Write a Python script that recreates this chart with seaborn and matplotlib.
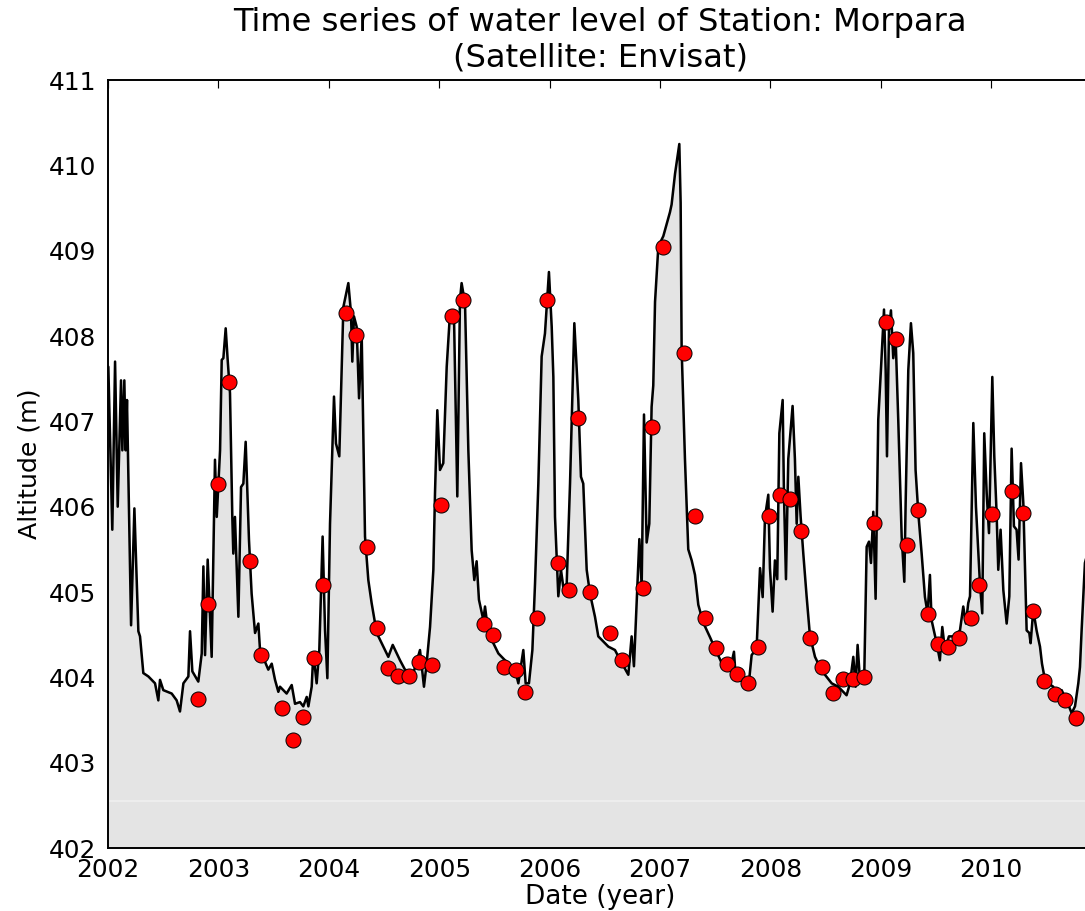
import matplotlib
matplotlib.use("Agg")
import matplotlib.pyplot as plt
import seaborn as sns
import pandas as pd
from matplotlib.ticker import FormatStrFormatter

# ---- data: continuous water-level series (decimal year, altitude m) ----
line_year = [
    2002.003, 2002.039, 2002.064, 2002.088, 2002.118, 2002.130, 2002.148, 2002.160, 2002.172, 2002.209,
    2002.239, 2002.275, 2002.290, 2002.320, 2002.366, 2002.426, 2002.456, 2002.471, 2002.501, 2002.577,
    2002.622, 2002.652, 2002.683, 2002.728, 2002.743, 2002.764, 2002.818, 2002.849, 2002.864, 2002.879,
    2002.903, 2002.939, 2002.969, 2002.985, 2003.015, 2003.030, 2003.045, 2003.066, 2003.084, 2003.105,
    2003.126, 2003.135, 2003.150, 2003.181, 2003.205, 2003.226, 2003.247, 2003.277, 2003.301, 2003.332,
    2003.362, 2003.377, 2003.452, 2003.483, 2003.513, 2003.543, 2003.558, 2003.618, 2003.664, 2003.694,
    2003.739, 2003.769, 2003.800, 2003.815, 2003.845, 2003.860, 2003.890, 2003.914, 2003.944, 2003.966,
    2003.987, 2004.011, 2004.047, 2004.065, 2004.095, 2004.132, 2004.177, 2004.201, 2004.213, 2004.228,
    2004.252, 2004.274, 2004.298, 2004.328, 2004.358, 2004.388, 2004.434, 2004.494, 2004.539, 2004.579,
    2004.645, 2004.690, 2004.766, 2004.826, 2004.862, 2004.886, 2004.917, 2004.947, 2004.962, 2004.983,
    2005.007, 2005.037, 2005.068, 2005.098, 2005.134, 2005.164, 2005.188, 2005.203, 2005.234, 2005.264,
    2005.294, 2005.318, 2005.339, 2005.360, 2005.400, 2005.415, 2005.445, 2005.490, 2005.536, 2005.596,
    2005.686, 2005.717, 2005.762, 2005.783, 2005.813, 2005.844, 2005.868, 2005.898, 2005.928, 2005.958,
    2005.994, 2006.019, 2006.034, 2006.049, 2006.079, 2006.103, 2006.124, 2006.155, 2006.185, 2006.224,
    2006.260, 2006.284, 2006.305, 2006.336, 2006.366, 2006.411, 2006.441, 2006.532, 2006.592, 2006.653,
    2006.713, 2006.743, 2006.764, 2006.788, 2006.813, 2006.834, 2006.855, 2006.879, 2006.903, 2006.924,
    2006.939, 2006.955, 2006.985, 2007.030, 2007.090, 2007.105, 2007.136, 2007.175, 2007.187, 2007.196,
    2007.226, 2007.256, 2007.287, 2007.317, 2007.347, 2007.392, 2007.453, 2007.498, 2007.558, 2007.634,
    2007.670, 2007.688, 2007.755, 2007.800, 2007.830, 2007.875, 2007.906, 2007.930, 2007.951, 2007.981,
    2007.996, 2008.020, 2008.041, 2008.062, 2008.081, 2008.111, 2008.123, 2008.141, 2008.162, 2008.201,
    2008.222, 2008.238, 2008.253, 2008.274, 2008.298, 2008.328, 2008.358, 2008.404, 2008.464, 2008.555,
    2008.615, 2008.690, 2008.721, 2008.751, 2008.772, 2008.790, 2008.811, 2008.850, 2008.872, 2008.893,
    2008.911, 2008.932, 2008.953, 2008.977, 2009.001, 2009.029, 2009.044, 2009.056, 2009.074, 2009.092,
    2009.113, 2009.134, 2009.158, 2009.189, 2009.213, 2009.225, 2009.249, 2009.273, 2009.294, 2009.315,
    2009.340, 2009.370, 2009.400, 2009.424, 2009.445, 2009.460, 2009.506, 2009.535, 2009.557, 2009.581,
    2009.617, 2009.666, 2009.717, 2009.747, 2009.771, 2009.792, 2009.808, 2009.838, 2009.862, 2009.898,
    2009.919, 2009.937, 2009.959, 2009.980, 2010.010, 2010.028, 2010.049, 2010.064, 2010.085, 2010.110,
    2010.140, 2010.164, 2010.185, 2010.206, 2010.230, 2010.248, 2010.270, 2010.291, 2010.321, 2010.345,
    2010.357, 2010.381, 2010.411, 2010.442, 2010.460, 2010.487, 2010.517, 2010.562, 2010.593, 2010.638,
    2010.668, 2010.698, 2010.729, 2010.759, 2010.789, 2010.804, 2010.819, 2010.849, 2010.920,
]
line_alt = [
    407.64, 405.73, 407.70, 406.00, 407.48, 406.66, 407.48, 406.66, 407.25, 404.61,
    405.98, 404.54, 404.48, 404.05, 404.01, 403.93, 403.73, 403.97, 403.85, 403.81,
    403.73, 403.60, 403.93, 404.01, 404.54, 404.07, 403.95, 404.28, 405.30, 404.26,
    405.38, 404.24, 406.55, 405.88, 406.66, 407.72, 407.74, 408.09, 407.72, 407.33,
    405.88, 405.45, 405.88, 404.71, 406.23, 406.27, 406.76, 405.61, 404.98, 404.52,
    404.63, 404.32, 404.09, 404.16, 403.97, 403.83, 403.89, 403.81, 403.91, 403.69,
    403.71, 403.66, 403.77, 403.66, 403.89, 404.28, 403.93, 404.32, 405.65, 404.55,
    403.99, 405.80, 407.29, 406.74, 406.59, 408.34, 408.62, 408.27, 407.70, 408.23,
    408.11, 407.27, 408.01, 405.65, 405.14, 404.87, 404.52, 404.36, 404.24, 404.38,
    404.20, 404.09, 404.05, 404.32, 403.89, 404.16, 404.59, 405.26, 406.16, 407.13,
    406.43, 406.51, 407.64, 408.27, 408.23, 406.12, 408.42, 408.62, 408.38, 406.66,
    405.49, 405.14, 405.36, 404.91, 404.67, 404.83, 404.52, 404.40, 404.28, 404.20,
    404.09, 403.93, 404.32, 403.93, 403.93, 404.32, 405.10, 406.27, 407.76, 408.03,
    408.75, 408.11, 407.52, 405.88, 404.95, 405.26, 405.06, 405.10, 406.27, 408.15,
    407.25, 406.35, 406.27, 405.26, 404.98, 404.71, 404.48, 404.36, 404.32, 404.17,
    404.03, 404.48, 404.13, 404.85, 405.62, 405.07, 407.08, 405.58, 405.80, 407.17,
    407.42, 408.40, 409.05, 409.17, 409.45, 409.54, 409.90, 410.25, 409.56, 407.85,
    406.56, 405.50, 405.37, 405.20, 404.85, 404.64, 404.47, 404.34, 404.17, 404.08,
    404.30, 403.96, 403.96, 403.87, 404.26, 404.34, 405.28, 404.94, 405.88, 406.14,
    405.28, 404.77, 405.37, 405.15, 406.86, 407.25, 406.14, 405.15, 406.56, 407.18,
    406.56, 405.80, 406.35, 405.88, 405.45, 404.95, 404.49, 404.24, 404.08, 403.93,
    403.89, 403.79, 403.93, 404.24, 403.89, 404.38, 403.97, 404.01, 405.53, 405.59,
    405.34, 405.94, 404.92, 407.02, 407.60, 408.31, 407.60, 406.59, 408.07, 408.30,
    407.74, 407.99, 407.02, 405.65, 405.12, 406.04, 407.60, 408.15, 407.80, 406.43,
    405.92, 405.45, 404.94, 404.75, 405.20, 404.67, 404.40, 404.20, 404.59, 404.32,
    404.48, 404.48, 404.55, 404.83, 404.63, 404.87, 404.95, 406.98, 406.00, 405.10,
    404.75, 406.86, 406.16, 405.69, 407.52, 406.59, 405.92, 405.26, 405.73, 405.02,
    404.63, 404.95, 406.68, 405.77, 405.73, 405.38, 406.51, 406.04, 404.55, 404.52,
    404.40, 404.79, 404.55, 404.36, 404.16, 403.97, 403.93, 403.89, 403.77, 403.85,
    403.77, 403.68, 403.58, 403.66, 403.93, 404.12, 404.55, 405.34, 405.70,
]

# ---- data: satellite (Envisat) measurements ----
sat_year = [
    2002.812, 2002.909, 2002.999, 2003.099, 2003.286, 2003.386, 2003.573, 2003.679, 2003.764, 2003.866,
    2003.950, 2004.156, 2004.246, 2004.349, 2004.434, 2004.533, 2004.630, 2004.729, 2004.820, 2004.932,
    2005.016, 2005.113, 2005.218, 2005.409, 2005.490, 2005.590, 2005.693, 2005.777, 2005.883, 2005.973,
    2006.073, 2006.176, 2006.260, 2006.366, 2006.547, 2006.653, 2006.843, 2006.925, 2007.030, 2007.217,
    2007.317, 2007.408, 2007.507, 2007.604, 2007.694, 2007.800, 2007.885, 2007.990, 2008.087, 2008.178,
    2008.274, 2008.362, 2008.464, 2008.570, 2008.661, 2008.751, 2008.848, 2008.941, 2009.044, 2009.135,
    2009.234, 2009.334, 2009.425, 2009.521, 2009.611, 2009.708, 2009.814, 2009.892, 2010.005, 2010.186,
    2010.291, 2010.381, 2010.481, 2010.578, 2010.668, 2010.768,
]
sat_alt = [
    403.75, 404.86, 406.27, 407.46, 405.36, 404.26, 403.64, 403.27, 403.54, 404.23,
    405.08, 408.27, 408.01, 405.53, 404.58, 404.11, 404.01, 404.01, 404.18, 404.14,
    406.02, 408.24, 408.42, 404.63, 404.50, 404.12, 404.09, 403.83, 404.69, 408.42,
    405.34, 405.02, 407.04, 405.00, 404.52, 404.20, 405.05, 406.93, 409.04, 407.80,
    405.89, 404.70, 404.34, 404.16, 404.04, 403.93, 404.36, 405.89, 406.14, 406.09,
    405.71, 404.46, 404.12, 403.82, 403.98, 403.98, 404.00, 405.81, 408.16, 407.97,
    405.55, 405.96, 404.74, 404.39, 404.35, 404.46, 404.70, 405.08, 405.91, 406.18,
    405.92, 404.78, 403.96, 403.81, 403.73, 403.52,
]

x_ticks = [2002, 2003, 2004, 2005, 2006, 2007, 2008, 2009, 2010]
y_ticks = [402, 403, 404, 405, 406, 407, 408, 409, 410, 411]
title_text = "Time series of water level of Station: Morpara\n(Satellite: Envisat)"
x_label = "Date (year)"
y_label = "Altitude (m)"
fill_base = 402.55

df_line = pd.DataFrame({"year": line_year, "alt": line_alt})
df_sat = pd.DataFrame({"year": sat_year, "alt": sat_alt})

sns.set_style("white")
plt.rcParams["font.family"] = ["DejaVu Sans"]
plt.rcParams["font.size"] = 12
plt.rcParams["text.color"] = "black"
plt.rcParams["axes.labelcolor"] = "black"
plt.rcParams["xtick.color"] = "black"
plt.rcParams["ytick.color"] = "black"

DPI = 140
fig = plt.figure(figsize=(1085 / DPI, 911 / DPI), dpi=DPI)
ax = fig.add_axes([108 / 1085, 63 / 911, (1092 - 108) / 1085, 768 / 911])

fill_c = "#e4e4e4"
ax.fill_between(df_line["year"], df_line["alt"], fill_base, color=fill_c, lw=0, zorder=1)
ax.axhspan(402, fill_base, color=fill_c, lw=0, zorder=1)
ax.axhline(fill_base, color="#f0f0f0", lw=0.8, zorder=1.5)

sns.lineplot(data=df_line, x="year", y="alt", color="black", lw=1.3,
             sort=False, estimator=None, ax=ax, zorder=2)
sns.scatterplot(data=df_sat, x="year", y="alt", color="red", edgecolor="black",
                linewidth=0.5, s=60, ax=ax, zorder=3)

ax.set_xlim(2002, 2002 + (1092 - 108) / 110.4)
ax.set_ylim(402, 411)
ax.set_xticks(x_ticks)
ax.set_yticks(y_ticks)
ax.xaxis.set_major_formatter(FormatStrFormatter("%d"))
ax.yaxis.set_major_formatter(FormatStrFormatter("%d"))
ax.tick_params(direction="in", length=4, width=0.6, color="black",
               top=True, right=False, labelsize=12.8, labelcolor="black")
ax.tick_params(axis="x", pad=5)
ax.tick_params(axis="y", pad=6)
for sp in ax.spines.values():
    sp.set_color("black")
    sp.set_linewidth(1.0)

ax.set_xlabel(x_label, fontsize=13.5, labelpad=1)
ax.set_ylabel(y_label, fontsize=13, labelpad=4)
ax.set_title(title_text, fontsize=16.5, pad=7, color="black")

fig.savefig("out.png", dpi=DPI)
